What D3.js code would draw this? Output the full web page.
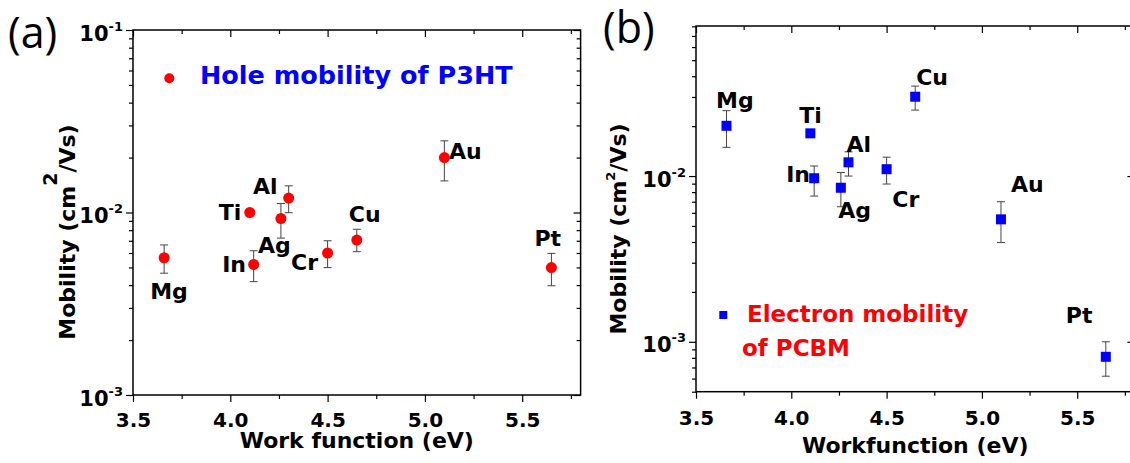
<!DOCTYPE html>
<html>
<head>
<meta charset="utf-8">
<script src="https://cdn.jsdelivr.net/npm/d3@7"></script>
<style>
body{margin:0;background:#fff;}
text{font-family:"DejaVu Sans",sans-serif;font-weight:bold;fill:#000;}
text.tag{font-family:"Open Sans",sans-serif;font-weight:normal;}
</style>
</head>
<body>
<script>
var width = 1130,
    height = 463;

// metals and their work function (eV), same for both panels
var metals = ["Mg", "Ti", "In", "Ag", "Al", "Cr", "Cu", "Au", "Pt"];
var workFunction = [3.66, 4.10, 4.12, 4.26, 4.30, 4.50, 4.65, 5.10, 5.65];

// (a) hole mobility of P3HT, cm2/Vs (null = no error bar)
var holeMobility = [5.65e-3, 1.00e-2, 5.19e-3, 9.27e-3, 1.20e-2, 6.0e-3, 7.06e-3, 2.0e-2, 4.99e-3];
var holeErrHigh  = [6.64e-3, null, 6.17e-3, 1.12e-2, 1.40e-2, 7.0e-3, 8.09e-3, 2.47e-2, 5.97e-3];
var holeErrLow   = [4.65e-3, null, 4.18e-3, 7.24e-3, 9.97e-3, 4.99e-3, 6.10e-3, 1.49e-2, 3.97e-3];

// (b) electron mobility of PCBM, cm2/Vs
var elecMobility = [2.01e-2, 1.81e-2, 9.7e-3, 8.5e-3, 1.21e-2, 1.10e-2, 3.01e-2, 5.48e-3, 8.12e-4];
var elecErrHigh  = [2.48e-2, null, 1.15e-2, 1.05e-2, 1.40e-2, 1.30e-2, 3.49e-2, 7.0e-3, 1.0e-3];
var elecErrLow   = [1.49e-2, null, 7.57e-3, 6.53e-3, 1.0e-2, 8.95e-3, 2.5e-2, 3.97e-3, 6.2e-4];

// axis ticks
var xTicks = [3.5, 4.0, 4.5, 5.0, 5.5];
var xTickLabels = ["3.5", "4.0", "4.5", "5.0", "5.5"];
var xMinorTicks = [3.75, 4.25, 4.75, 5.25, 5.75];
var yTicksA = [1e-3, 1e-2, 1e-1];
var yTicksB = [1e-3, 1e-2];

// label offsets from the marker (px): [dx, dy]
var labelOffsetA = [[-14, 41], [-31, 7.5], [-31.5, 7.4], [-23, 34], [-35.7, -4], [-36.6, 16.6], [-8, -18.3], [4.6, 1.6], [-17, -22]];
var labelOffsetB = [[-10.5, -18], [-11, -10.6], [-28, 3.4], [-2.6, 30.6], [-2, -10.6], [5.7, 37.7], [1, -11.7], [10, -27], [-40, -33.4]];

var svg = d3.select("body").append("svg")
    .attr("width", width)
    .attr("height", height);

function minorLogTicks(domain) {
    var out = [];
    var e0 = Math.floor(Math.log10(domain[0])), e1 = Math.ceil(Math.log10(domain[1]));
    for (var e = e0; e <= e1; e++) {
        for (var k = 2; k <= 9; k++) {
            var v = k * Math.pow(10, e);
            if (v >= domain[0] && v <= domain[1]) out.push(v);
        }
    }
    return out;
}

function drawPanel(p) {
    var x = d3.scaleLinear().domain([3.5, 5.8]).range(p.xr);
    var y = d3.scaleLog().domain(p.yd).range(p.yr);
    var g = svg.append("g");
    var x0 = p.xr[0], x1 = p.xr[1], yb = p.yr[0], yt = p.yr[1];

    //bottom axis, major + minor, ticks outward
    g.append("g").attr("transform", "translate(0," + yb + ")")
        .call(d3.axisBottom(x).tickValues(xMinorTicks).tickSize(4).tickSizeOuter(0).tickFormat(""));
    var bx = g.append("g").attr("class", "xax").attr("transform", "translate(0," + yb + ")")
        .call(d3.axisBottom(x).tickValues(xTicks).tickSize(7).tickSizeOuter(0).tickPadding(p.xPad)
              .tickFormat(function(d, i){ return xTickLabels[i]; }));
    bx.selectAll("text").style("font-size", "20px");
    //top axis, ticks inward
    g.append("g").attr("transform", "translate(0," + yt + ")")
        .call(d3.axisTop(x).tickValues(xMinorTicks).tickSize(-4).tickSizeOuter(0).tickFormat(""));
    g.append("g").attr("transform", "translate(0," + yt + ")")
        .call(d3.axisTop(x).tickValues(xTicks).tickSize(-7).tickSizeOuter(0).tickFormat(""));

    //left axis
    g.append("g").attr("transform", "translate(" + x0 + ",0)")
        .call(d3.axisLeft(y).tickValues(minorLogTicks(p.yd)).tickSize(4).tickSizeOuter(0).tickFormat(""));
    var ly = g.append("g").attr("transform", "translate(" + x0 + ",0)")
        .call(d3.axisLeft(y).tickValues(p.yTicks).tickSize(7).tickSizeOuter(0).tickPadding(3).tickFormat(""));
    ly.selectAll(".tick text").attr("dy", "0.48em").style("font-size", "21px")
        .each(function(d) {
            var t = d3.select(this);
            t.append("tspan").text("10");
            t.append("tspan").attr("dy", -10).style("font-size", "13px").text(Math.round(Math.log10(d)));
        });
    //right axis, ticks inward
    g.append("g").attr("transform", "translate(" + x1 + ",0)")
        .call(d3.axisRight(y).tickValues(minorLogTicks(p.yd)).tickSize(-4).tickSizeOuter(0).tickFormat(""));
    g.append("g").attr("transform", "translate(" + x1 + ",0)")
        .call(d3.axisRight(y).tickValues(p.yTicks).tickSize(-7).tickSizeOuter(0).tickFormat(""));

    g.selectAll(".domain").remove();
    g.selectAll(".tick line").attr("stroke", "#000").attr("stroke-width", 1.2);

    //frame
    g.append("rect").attr("x", x0).attr("y", yt).attr("width", x1 - x0).attr("height", yb - yt)
        .attr("fill", "none").attr("stroke", "#000").attr("stroke-width", 1.5);

    //error bars
    var eb = g.append("g").attr("stroke", "#444").attr("stroke-width", 1).attr("fill", "none");
    p.values.forEach(function(v, i) {
        if (p.hi[i] == null) return;
        var cx = x(workFunction[i]);
        eb.append("line").attr("x1", cx).attr("x2", cx).attr("y1", y(p.hi[i])).attr("y2", y(p.lo[i]));
        eb.append("line").attr("x1", cx - 4).attr("x2", cx + 4).attr("y1", y(p.hi[i])).attr("y2", y(p.hi[i]));
        eb.append("line").attr("x1", cx - 4).attr("x2", cx + 4).attr("y1", y(p.lo[i])).attr("y2", y(p.lo[i]));
    });

    //markers
    if (p.marker == "circle") {
        g.append("g").selectAll("circle").data(p.values).enter().append("circle")
            .attr("cx", function(d, i){ return x(workFunction[i]); })
            .attr("cy", function(d){ return y(d); })
            .attr("r", 5.5).attr("fill", p.color);
    } else {
        g.append("g").selectAll("rect").data(p.values).enter().append("rect")
            .attr("x", function(d, i){ return x(workFunction[i]) - 5; })
            .attr("y", function(d){ return y(d) - 5; })
            .attr("width", 10).attr("height", 10).attr("fill", p.color);
    }

    //metal labels
    g.append("g").selectAll("text").data(metals).enter().append("text")
        .attr("x", function(d, i){ return x(workFunction[i]) + p.offsets[i][0]; })
        .attr("y", function(d, i){ return y(p.values[i]) + p.offsets[i][1]; })
        .style("font-size", "22px")
        .text(function(d){ return d; });

    //axis titles
    g.append("text").attr("x", (x0 + x1) / 2).attr("y", p.xTitleY).attr("text-anchor", "middle")
        .style("font-size", "22px").text(p.xTitle);
    var yt2 = g.append("text").attr("transform", "translate(" + p.yTitleX + "," + p.yTitleY + ") rotate(-90)")
        .attr("text-anchor", "middle").style("font-size", "22px");
    yt2.append("tspan").text("Mobility (cm");
    yt2.append("tspan").attr("dy", -p.supShift).style("font-size", p.supSize + "px").text("2");
    yt2.append("tspan").attr("dy", p.supShift).text("/Vs)");

    //panel tag
    svg.append("text").attr("class", "tag").attr("x", p.tag[1]).attr("y", p.tag[2])
        .style("font-size", "43px").text(p.tag[0]);

    return {x: x, y: y, g: g};
}

var A = drawPanel({
    xr: [133, 580.6], yd: [1e-3, 1e-1], yr: [395, 30], yTicks: yTicksA,
    values: holeMobility, hi: holeErrHigh, lo: holeErrLow,
    marker: "circle", color: "#ff0000", offsets: labelOffsetA,
    xTitle: "Work function (eV)", xTitleY: 448, xPad: 10.5,
    yTitleX: 75, yTitleY: 232, supSize: 19, supShift: 18,
    tag: ["(a)", 8, 48]
});

var B = drawPanel({
    xr: [696, 1134.4], yd: [5e-4, 8.04e-2], yr: [391.7, 26], yTicks: yTicksB,
    values: elecMobility, hi: elecErrHigh, lo: elecErrLow,
    marker: "square", color: "#0000ff", offsets: labelOffsetB,
    xTitle: "Workfunction (eV)", xTitleY: 453, xPad: 12,
    yTitleX: 626, yTitleY: 229, supSize: 13, supShift: 11,
    tag: ["(b)", 603, 43]
});

//legends
svg.append("circle").attr("cx", 169.3).attr("cy", 78.3).attr("r", 5).attr("fill", "#ff0000");
svg.append("text").attr("x", 200).attr("y", 84.3).style("font-size", "25.5px").style("fill", "#0000ff")
    .text("Hole mobility of P3HT");

svg.append("rect").attr("x", 719.3).attr("y", 311).attr("width", 8).attr("height", 8).attr("fill", "#0000ff");
var lt = svg.append("text").style("font-size", "23px").style("fill", "#ff0000");
lt.append("tspan").attr("x", 747).attr("y", 321.7).text("Electron mobility");
lt.append("tspan").attr("x", 742).attr("y", 356).text("of PCBM");
</script>
</body>
</html>
